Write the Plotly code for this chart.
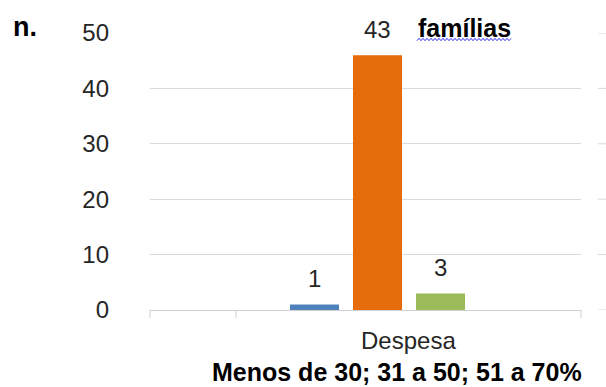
import plotly.graph_objects as go

# ---- data ----
categories = ["Despesa"]
series_names = ["Menos de 30", "31 a 50", "51 a 70%"]
bar_values = [1, 46, 3]          # bar heights as drawn
bar_labels = ["1", "43", "3"]    # data labels as printed
series_colors = ["#4F81BD", "#E46C0A", "#9BBB59"]
y_ticks = [0, 10, 20, 30, 40, 50]

W, H = 606, 387
L, R, T, B = 150, 25, 33, 77
plot_w = W - L - R
plot_h = H - T - B


def px_x(px):
    return (px - L) / plot_w


def px_y(py):
    return (H - B - py) / plot_h


# category axis geometry
unit_px = 455.0
x0 = -0.5
x1 = x0 + plot_w / unit_px
slot = 63.0 / unit_px
bargap = 1 - 3 * slot
bargroupgap = 1 - 49.0 / 63.0

FONT = "Liberation Sans, Arial, sans-serif"

fig = go.Figure()
for name, v, c in zip(series_names, bar_values, series_colors):
    fig.add_trace(go.Bar(x=categories, y=[v], name=name, marker=dict(color=c, line=dict(width=0))))

annotations = []
n = len(series_names)
for i, (v, lab) in enumerate(zip(bar_values, bar_labels)):
    annotations.append(dict(x=(i - (n - 1) / 2) * slot, y=v, xref="x", yref="y", text=lab,
                            showarrow=False, xanchor="center", yanchor="middle", yshift=26,
                            font=dict(family=FONT, size=24, color="#262626")))

annotations += [
    dict(x=px_x(408), y=px_y(340), xref="paper", yref="paper", text=categories[0],
         showarrow=False, xanchor="center", yanchor="middle",
         font=dict(family=FONT, size=24, color="#262626")),
    dict(x=px_x(397), y=px_y(372), xref="paper", yref="paper",
         text="<b>Menos de 30; 31 a 50; 51 a 70%</b>",
         showarrow=False, xanchor="center", yanchor="middle",
         font=dict(family=FONT, size=25, color="#000000")),
    dict(x=px_x(11), y=px_y(27), xref="paper", yref="paper", text="<b>n.</b>",
         showarrow=False, xanchor="left", yanchor="middle",
         font=dict(family=FONT, size=27, color="#000000")),
    dict(x=px_x(464), y=px_y(28), xref="paper", yref="paper", text="<b>famílias</b>",
         showarrow=False, xanchor="center", yanchor="middle",
         font=dict(family=FONT, size=25, color="#000000")),
]

shapes = []
# white text-box background hiding part of the top gridline
shapes.append(dict(type="rect", xref="paper", yref="paper", x0=px_x(392), x1=px_x(543),
                   y0=px_y(40), y1=px_y(22), fillcolor="white", line=dict(width=0),
                   layer="above"))
# short gridline fragments at the far right
for v in y_ticks:
    shapes.append(dict(type="line", xref="paper", yref="y", x0=px_x(598), x1=px_x(606),
                       y0=v, y1=v, line=dict(color="#d9d9d9", width=1)))
# category tick marks
for px in [150, 236, 581]:
    xp = px_x(px)
    shapes.append(dict(type="line", xref="paper", yref="paper", x0=xp, x1=xp,
                       y0=0, y1=-8 / plot_h, line=dict(color="#d0d0d0", width=1)))
# wavy spell-check underline under "famílias"
wx0, wx1, wy = 417, 512, 39.5
pts = []
k = 0
xx = wx0
while xx <= wx1:
    yy = wy + (1.2 if k % 2 == 0 else -1.2)
    pts.append(f"{px_x(xx):.5f},{px_y(yy):.5f}")
    xx += 2
    k += 1
path = "M " + " L ".join(pts)
shapes.append(dict(type="path", xref="paper", yref="paper", path=path,
                   line=dict(color="#3333ff", width=1), layer="above"))

fig.update_layout(
    width=W, height=H,
    margin=dict(l=L, r=R, t=T, b=B, pad=0),
    paper_bgcolor="white", plot_bgcolor="white",
    barmode="group", bargap=bargap, bargroupgap=bargroupgap,
    showlegend=False,
    annotations=annotations, shapes=shapes,
    xaxis=dict(type="category", range=[x0, x1], showticklabels=False, showgrid=False,
               showline=True, linecolor="#d0d0d0", linewidth=1, ticks="", zeroline=False,
               fixedrange=True),
    yaxis=dict(range=[0, 50], tickvals=y_ticks, showgrid=True, gridcolor="#d9d9d9",
               gridwidth=1, zeroline=False, showline=False, ticks="",
               ticklabelstandoff=40,
               tickfont=dict(family=FONT, size=24, color="#262626"), fixedrange=True),
)

fig.write_html("out.html")
